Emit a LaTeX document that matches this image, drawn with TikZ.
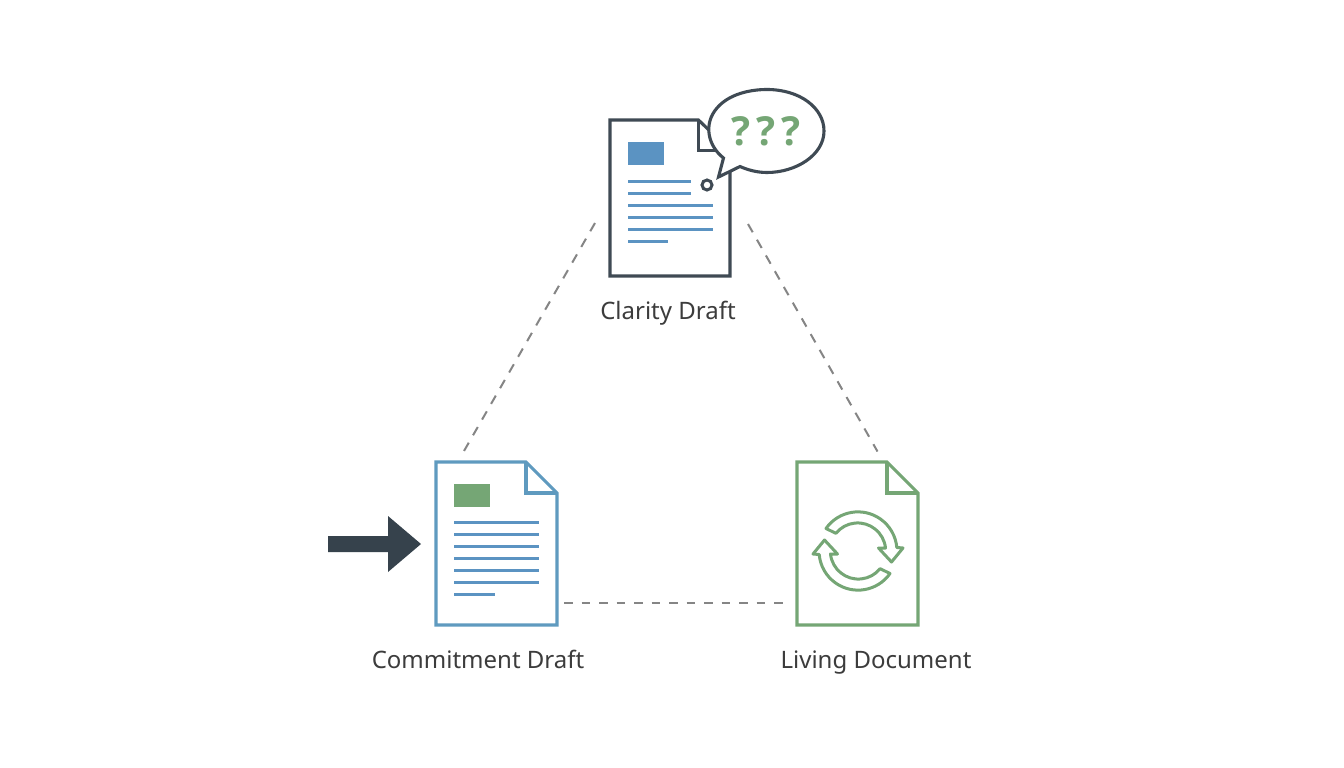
\documentclass[tikz,border=0pt]{standalone}
\usepackage{fontspec}
\setmainfont{Noto Sans}
\newfontfamily\qfont{Open Sans}
\definecolor{darkc}{HTML}{3F4A54}
\definecolor{arrowc}{HTML}{36424C}
\definecolor{bluec}{HTML}{5F9ABF}
\definecolor{barc}{HTML}{5B93C2}
\definecolor{greenc}{HTML}{75A675}
\definecolor{dashc}{HTML}{858585}
\definecolor{labelc}{HTML}{3C3C3C}
\tikzset{
  docline/.style={line width=3.1pt,line join=miter},
  textbar/.style={line width=3pt,color=barc},
  link/.style={line width=2pt,color=dashc,dash pattern=on 9.5pt off 8.6pt},
  flatlink/.style={line width=2pt,color=dashc,dash pattern=on 8.5pt off 9pt},
  lab/.style={font=\fontsize{24}{28}\selectfont,text=labelc,inner sep=0pt,anchor=base},
  qmark/.style={font=\qfont\bfseries\fontsize{40}{44}\selectfont,text=greenc,inner sep=0pt,anchor=base},
  cyc/.style={draw=greenc,line width=3pt,line join=round,fill=white}
}
\newcommand{\docshape}[7]{% color, left, top, right, bottom, foldx, foldy
  \draw[docline,draw=#1,fill=white] (#2,#3) -- (#6,#3) -- (#4,#7) -- (#4,#5) -- (#2,#5) -- cycle;
  \draw[docline,draw=#1] (#6,#3) -- (#6,#7) -- (#4,#7);
}
\begin{document}
\begin{tikzpicture}[x=1pt,y=-1pt]
\useasboundingbox (0,0) rectangle (1344,768);
\fill[white] (0,0) rectangle (1344,768);

% connectors
\coordinate (c1a) at (595,223);
\coordinate (c1b) at (464,451);
\coordinate (c2a) at (748,224);
\coordinate (c2b) at (877.5,451.5);
\coordinate (c3a) at (564,603);
\coordinate (c3b) at (783,603);
\draw[link] (c1a) -- (c1b);
\draw[link] (c2a) -- (c2b);
\draw[flatlink] (c3a) -- (c3b);

% Clarity draft
\docshape{darkc}{610}{120}{730}{276}{698.5}{150.5}
\fill[barc] (628,142) rectangle (663.5,165);
\foreach \y/\e in {181/691,193/691,205/713,217/713,229/713,241/668}
  \draw[textbar] (628,\y) -- (\e,\y);
\draw[darkc,line width=3pt,fill=white] (707,185) circle[radius=5];
\draw[darkc,line width=3.1pt,fill=white,line join=miter]
  (723.5,158) .. controls (708,146) and (703,124) .. (717,108)
  .. controls (729,94) and (750,89.5) .. (767,89.5)
  .. controls (800,89.5) and (824,108) .. (824,131)
  .. controls (824,155) and (796,172.5) .. (767,172.5)
  .. controls (757,172.5) and (748,170) .. (740,166.5)
  -- (718.5,177) -- cycle;
\node[qmark] (q1) at (741,145) {?};
\node[qmark] (q2) at (766,145) {?};
\node[qmark] (q3) at (791,145) {?};
\node[lab] (l1) at (668,319) {Clarity Draft};

% Commitment draft
\docshape{bluec}{436}{462}{557}{625}{526}{493}
\fill[greenc] (454,484) rectangle (490,507);
\foreach \y/\e in {522/539,534/539,546/539,558/539,570/539,582/539,594/495}
  \draw[textbar] (454,\y) -- (\e,\y);
\fill[arrowc] (328,536) -- (388,536) -- (388,516) -- (421,544) -- (388,572) -- (388,552) -- (328,552) -- cycle;
\node[lab] (l2) at (478,668) {Commitment Draft};

% Living document
\docshape{greenc}{797}{462}{918}{625}{887}{493}
\foreach \r in {0,180}{
  \begin{scope}[rotate around={\r:(858,551)}]
    \draw[cyc] (826,528.5) arc[start angle=215,end angle=355,x radius=39,y radius=39]
      -- (903,548) -- (891.5,562) -- (878.5,548) -- (885.5,548)
      arc[start angle=354,end angle=219,x radius=28,y radius=28] -- cycle;
  \end{scope}
}
\node[lab] (l3) at (876,668) {Living Document};
\end{tikzpicture}
\end{document}
